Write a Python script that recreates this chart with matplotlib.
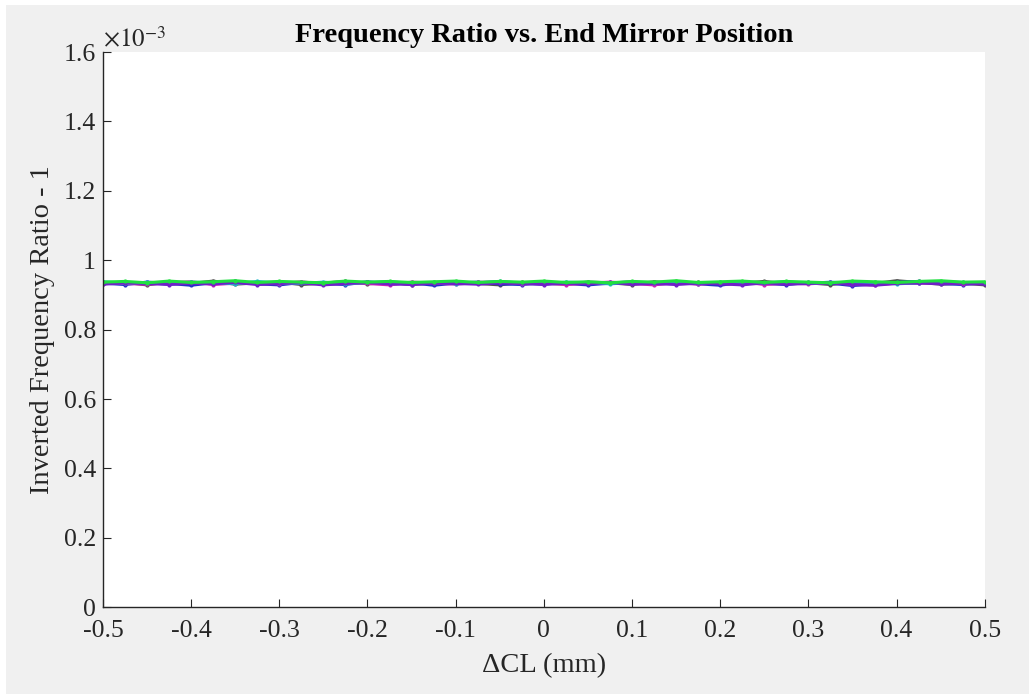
import matplotlib.pyplot as plt
import numpy as np
from matplotlib.patches import Rectangle

# ------------------------------------------------------------
# Data (ratio - 1, in units of 1e-3)
# ------------------------------------------------------------
delta_cl = np.linspace(-0.5, 0.5, 41)

gray_run = [0.932, 0.936, 0.929, 0.938, 0.933, 0.940, 0.931, 0.935, 0.937, 0.930,
            0.934, 0.939, 0.932, 0.936, 0.930, 0.935, 0.938, 0.933, 0.929, 0.936,
            0.934, 0.931, 0.937, 0.935, 0.930, 0.938, 0.933, 0.936, 0.931, 0.934,
            0.939, 0.932, 0.935, 0.930, 0.937, 0.933, 0.941, 0.936, 0.931, 0.934,
            0.929]
blue_run = [0.934, 0.930, 0.937, 0.933, 0.928, 0.935, 0.939, 0.932, 0.929, 0.936,
            0.933, 0.930, 0.938, 0.931, 0.935, 0.928, 0.934, 0.937, 0.932, 0.930,
            0.936, 0.933, 0.929, 0.934, 0.938, 0.931, 0.935, 0.932, 0.928, 0.937,
            0.933, 0.930, 0.936, 0.934, 0.927, 0.932, 0.936, 0.939, 0.933, 0.930,
            0.935]
magenta_run = [0.936, 0.933, 0.931, 0.935, 0.938, 0.930, 0.934, 0.936, 0.932, 0.938,
               0.931, 0.935, 0.933, 0.929, 0.937, 0.934, 0.931, 0.936, 0.938, 0.932,
               0.935, 0.930, 0.934, 0.937, 0.933, 0.929, 0.936, 0.931, 0.935, 0.938,
               0.930, 0.934, 0.932, 0.936, 0.931, 0.929, 0.934, 0.933, 0.937, 0.932,
               0.934]
cyan_run = [0.938, 0.934, 0.936, 0.931, 0.937, 0.935, 0.932, 0.939, 0.934, 0.933,
            0.937, 0.932, 0.936, 0.938, 0.933, 0.936, 0.932, 0.935, 0.939, 0.934,
            0.931, 0.937, 0.935, 0.932, 0.936, 0.934, 0.938, 0.933, 0.936, 0.932,
            0.935, 0.938, 0.933, 0.937, 0.934, 0.936, 0.932, 0.935, 0.938, 0.936,
            0.933]
purple_run = [0.931, 0.935, 0.933, 0.930, 0.934, 0.932, 0.936, 0.930, 0.933, 0.935,
              0.929, 0.933, 0.936, 0.932, 0.930, 0.934, 0.933, 0.931, 0.935, 0.933,
              0.930, 0.934, 0.932, 0.936, 0.931, 0.933, 0.930, 0.934, 0.932, 0.929,
              0.935, 0.931, 0.933, 0.936, 0.930, 0.928, 0.933, 0.935, 0.932, 0.934,
              0.931]
green_run = [0.937, 0.939, 0.935, 0.940, 0.936, 0.938, 0.941, 0.936, 0.939, 0.937,
             0.935, 0.940, 0.937, 0.939, 0.936, 0.938, 0.940, 0.936, 0.939, 0.937,
             0.940, 0.936, 0.938, 0.935, 0.939, 0.937, 0.941, 0.936, 0.938, 0.940,
             0.936, 0.939, 0.937, 0.935, 0.940, 0.938, 0.936, 0.939, 0.941, 0.937,
             0.938]

runs = [gray_run, blue_run, magenta_run, cyan_run, purple_run, green_run]
colors = ["#505050", "#2030c8", "#d020b8", "#20b8c8", "#7020c8", "#20e040"]

x_ticks = [-0.5, -0.4, -0.3, -0.2, -0.1, 0, 0.1, 0.2, 0.3, 0.4, 0.5]
x_labels = ["-0.5", "-0.4", "-0.3", "-0.2", "-0.1", "0",
            "0.1", "0.2", "0.3", "0.4", "0.5"]
y_ticks = [0, 0.2, 0.4, 0.6, 0.8, 1.0, 1.2, 1.4, 1.6]
y_labels = ["0", "0.2", "0.4", "0.6", "0.8", "1", "1.2", "1.4", "1.6"]

# ------------------------------------------------------------
# Plot
# ------------------------------------------------------------
plt.rcParams["font.family"] = ["Liberation Serif", "DejaVu Serif"]
plt.rcParams["mathtext.fontset"] = "stix"

fig = plt.figure(figsize=(10.29, 6.94), dpi=100, facecolor="white")
fig.patches.append(
    Rectangle((0.006, 0.0), 0.994, 0.993, transform=fig.transFigure,
              facecolor="#f0f0f0", edgecolor="none", zorder=-10)
)
ax = fig.add_axes([0.1, 0.125, 0.857, 0.80])
ax.set_facecolor("white")

for vals, c in zip(runs, colors):
    ax.plot(delta_cl, vals, color=c, linewidth=2.2, marker=".", markersize=4)

ax.set_xlim(-0.5, 0.5)
ax.set_ylim(0, 1.6)
ax.set_xticks(x_ticks)
ax.set_xticklabels(x_labels)
ax.set_yticks(y_ticks)
ax.set_yticklabels(y_labels)
ax.tick_params(direction="in", length=6, width=0.8, labelsize=18.5,
               colors="#262626", top=False, right=False)
ax.tick_params(axis="x", pad=9)
ax.tick_params(axis="y", pad=5)

for spine in ["top", "right"]:
    ax.spines[spine].set_visible(False)
for spine in ["left", "bottom"]:
    ax.spines[spine].set_color("#262626")
    ax.spines[spine].set_linewidth(1.0)

ax.text(0.0, 1.0, r"$\times10^{-3}$", transform=ax.transAxes,
        fontsize=18, ha="left", va="bottom", color="#262626")

ax.set_title("Frequency Ratio vs. End Mirror Position", fontsize=20.5,
             fontweight="bold", color="black", pad=7)
ax.set_xlabel("\u0394CL (mm)", fontsize=20.5, color="#262626", labelpad=8)
ax.set_ylabel("Inverted Frequency Ratio - 1", fontsize=20.5, color="#262626",
              labelpad=6)

plt.savefig("out.png", dpi=100, facecolor=fig.get_facecolor())
